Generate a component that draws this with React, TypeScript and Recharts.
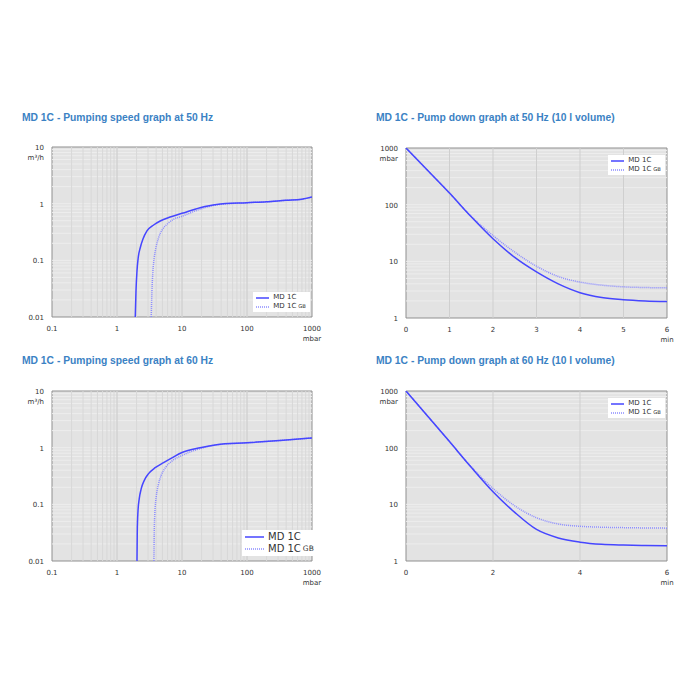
import {
  LineChart,
  Line,
  XAxis,
  YAxis,
  CartesianGrid,
  ReferenceLine,
  ReferenceArea,
} from "recharts";

// ---- data ----
const speed50StdP = [1.91, 1.96, 2.03, 2.12, 2.28, 2.5, 2.89, 3.66, 4.62, 6.58, 10, 19, 34, 100, 200, 400, 700, 1000];
const speed50StdS = [0.01, 0.029, 0.065, 0.111, 0.167, 0.235, 0.33, 0.42, 0.494, 0.58, 0.675, 0.85, 0.97, 1.04, 1.08, 1.15, 1.2, 1.31];
const speed50GbP = [3.36, 3.45, 3.57, 3.74, 3.97, 4.36, 5.02, 5.85, 7.4, 10, 19, 34, 100, 200, 400, 700, 1000];
const speed50GbS = [0.01, 0.029, 0.065, 0.111, 0.167, 0.25, 0.353, 0.43, 0.53, 0.6, 0.8, 0.95, 1.04, 1.08, 1.15, 1.2, 1.31];

const speed60StdP = [2.03, 2.05, 2.1, 2.2, 2.36, 2.63, 3.06, 3.87, 5.2, 7.0, 10, 19, 34, 100, 360, 1000];
const speed60StdS = [0.01, 0.0325, 0.073, 0.126, 0.189, 0.265, 0.348, 0.443, 0.543, 0.66, 0.82, 1.0, 1.13, 1.22, 1.35, 1.48];
const speed60GbP = [3.7, 3.74, 3.83, 4.01, 4.31, 4.79, 5.65, 7.0, 10, 19, 34, 100, 360, 1000];
const speed60GbS = [0.01, 0.0325, 0.073, 0.135, 0.217, 0.325, 0.456, 0.58, 0.73, 0.96, 1.12, 1.22, 1.35, 1.48];

const downTime = [0, 0.5, 1, 1.5, 2, 2.5, 3, 3.5, 4, 4.5, 5, 5.5, 6];
const down50Std = [1000, 400, 160, 61, 25, 11.7, 6.5, 4.0, 2.8, 2.3, 2.1, 2.0, 1.95];
const down50Gb = [1000, 400, 160, 62, 28.5, 14.5, 8.2, 5.4, 4.3, 3.8, 3.55, 3.45, 3.4];
const down60Std = [1000, 360, 128, 45, 16.7, 7.2, 3.6, 2.55, 2.15, 1.97, 1.91, 1.88, 1.86];
const down60Gb = [1000, 360, 128, 46, 19, 9.4, 5.8, 4.5, 4.1, 3.95, 3.88, 3.83, 3.8];

const pressureTicks = [0.1, 1, 10, 100, 1000];
const speedTicks = [0.01, 0.1, 1, 10];
const downTicks = [1, 10, 100, 1000];
const minutes50 = [0, 1, 2, 3, 4, 5, 6];
const minutes60 = [0, 2, 4, 6];

const seriesNames = ["MD 1C", "MD 1C"];

const titles = [
  "MD 1C - Pumping speed graph at 50 Hz",
  "MD 1C - Pump down graph at 50 Hz (10 l volume)",
  "MD 1C - Pumping speed graph at 60 Hz",
  "MD 1C - Pump down graph at 60 Hz (10 l volume)",
];

const STD = "#4646ff";
const GB = "#8c8cff";
const TICK_FONT = "'DejaVu Sans', sans-serif";

function zip(xs: number[], ys: number[]) {
  return xs.map((x, i) => ({ x, y: ys[i] }));
}

// minor log grid values inside [lo, hi]
function logMinor(lo: number, hi: number) {
  const out: number[] = [];
  for (let d = lo; d < hi; d *= 10) {
    for (let k = 1; k < 10; k++) {
      const v = +(d * k).toPrecision(3);
      if (v > lo && v < hi) out.push(v);
    }
  }
  return out;
}

function makeTick(anchor: string, unitAt: number, unit: string, vertical: boolean) {
  return (props: any) => {
    const { x, y, payload } = props;
    const v = payload.value;
    return (
      <g>
        <text
          x={x}
          y={y}
          dy={vertical ? 3 : 6}
          textAnchor={anchor}
          fontSize={7}
          fontFamily={TICK_FONT}
          fill="#333"
        >
          {String(v)}
        </text>
        {v === unitAt && (
          <text
            x={x}
            y={y}
            dy={vertical ? 13 : 16}
            textAnchor={anchor}
            fontSize={7}
            fontFamily={TICK_FONT}
            fill="#333"
          >
            {unit}
          </text>
        )}
      </g>
    );
  };
}

function Legend({ left, top, size, gb }: { left: number; top: number; size: number; gb: string }) {
  const row = (color: string, dotted: boolean, label: string, sub?: string) => (
    <div style={{ display: "flex", alignItems: "center", height: size + 2 }}>
      <svg width={size * 1.9} height={4} style={{ marginRight: 4 }}>
        <line
          x1={0}
          y1={2}
          x2={size * 1.9}
          y2={2}
          stroke={color}
          strokeWidth={1.5}
          strokeDasharray={dotted ? "1 1" : undefined}
        />
      </svg>
      <span>{label}</span>
      {sub && <span style={{ fontSize: size * 0.75, marginLeft: 2 }}>{sub}</span>}
    </div>
  );
  return (
    <div
      style={{
        position: "absolute",
        left,
        top,
        background: "#fff",
        padding: "1px 4px 1px 3px",
        fontFamily: TICK_FONT,
        fontSize: size,
        color: "#333",
        lineHeight: 1,
      }}
    >
      {row(STD, false, seriesNames[0])}
      {row(GB, true, seriesNames[1], gb)}
    </div>
  );
}

type Pt = { x: number; y: number };

function SpeedChart({ std, gb, top }: { std: Pt[]; gb: Pt[]; top: number }) {
  return (
    <div style={{ position: "absolute", left: 0, top }}>
      <LineChart width={330} height={202} margin={{ top: 7, right: 18, bottom: 0, left: 0 }}>
        <CartesianGrid fill="#e3e3e3" stroke="none" />
        {logMinor(0.01, 10).map((v) => (
          <ReferenceLine key={"h" + v} y={v} stroke="#ededed" strokeWidth={1} />
        ))}
        {logMinor(0.1, 1000).map((v) => (
          <ReferenceLine key={"v" + v} x={v} stroke="#d8d8d8" strokeWidth={1} />
        ))}
        {[1, 10, 100].map((v) => (
          <ReferenceLine key={"vm" + v} x={v} stroke="#d0d0d0" strokeWidth={1} />
        ))}
        <ReferenceArea x1={0.1} x2={1000} y1={0.01} y2={10} fill="none" stroke="#8f8f8f" strokeWidth={1} />
        <XAxis
          type="number"
          dataKey="x"
          scale="log"
          domain={[0.1, 1000]}
          allowDataOverflow
          ticks={pressureTicks}
          interval={0}
          axisLine={false}
          tickLine={false}
          height={25}
          tick={makeTick("middle", 1000, "mbar", false)}
        />
        <YAxis
          type="number"
          dataKey="y"
          scale="log"
          domain={[0.01, 10]}
          allowDataOverflow
          ticks={speedTicks}
          interval={0}
          axisLine={false}
          tickLine={false}
          width={52}
          tick={makeTick("end", 10, "m³/h", true)}
        />
        <Line
          data={gb}
          dataKey="y"
          type="monotone"
          stroke={GB}
          strokeWidth={1.5}
          strokeDasharray="1 1"
          dot={false}
          isAnimationActive={false}
        />
        <Line
          data={std}
          dataKey="y"
          type="monotone"
          stroke={STD}
          strokeWidth={1.5}
          dot={false}
          isAnimationActive={false}
        />
      </LineChart>
    </div>
  );
}

function DownChart({ std, gb, top, minutes }: { std: Pt[]; gb: Pt[]; top: number; minutes: number[] }) {
  return (
    <div style={{ position: "absolute", left: 350, top }}>
      <LineChart width={330} height={202} margin={{ top: 7, right: 13, bottom: 0, left: 0 }}>
        <CartesianGrid fill="#e3e3e3" stroke="none" />
        {logMinor(1, 1000).map((v) => (
          <ReferenceLine key={"h" + v} y={v} stroke="#ededed" strokeWidth={1} />
        ))}
        {minutes.slice(1, -1).map((v) => (
          <ReferenceLine key={"v" + v} x={v} stroke="#cfcfcf" strokeWidth={1} />
        ))}
        <ReferenceArea x1={0} x2={6} y1={1} y2={1000} fill="none" stroke="#8f8f8f" strokeWidth={1} />
        <XAxis
          type="number"
          dataKey="x"
          domain={[0, 6]}
          ticks={minutes}
          interval={0}
          axisLine={false}
          tickLine={false}
          height={25}
          tick={makeTick("middle", 6, "min", false)}
        />
        <YAxis
          type="number"
          dataKey="y"
          scale="log"
          domain={[1, 1000]}
          allowDataOverflow
          ticks={downTicks}
          interval={0}
          axisLine={false}
          tickLine={false}
          width={56}
          tick={makeTick("end", 1000, "mbar", true)}
        />
        <Line
          data={gb}
          dataKey="y"
          type="monotone"
          stroke={GB}
          strokeWidth={1.5}
          strokeDasharray="1 1"
          dot={false}
          isAnimationActive={false}
        />
        <Line
          data={std}
          dataKey="y"
          type="monotone"
          stroke={STD}
          strokeWidth={1.5}
          dot={false}
          isAnimationActive={false}
        />
      </LineChart>
    </div>
  );
}

const titleStyle = (left: number, top: number): React.CSSProperties => ({
  position: "absolute",
  left,
  top,
  fontFamily: "'Liberation Sans', Arial, sans-serif",
  fontWeight: "bold",
  fontSize: 10.3,
  color: "#3b82c4",
  whiteSpace: "nowrap",
});

export default function App() {
  return (
    <div
      style={{
        position: "absolute",
        left: 0,
        top: 0,
        width: 700,
        height: 700,
        background: "#fff",
        overflow: "hidden",
      }}
    >
      <div style={titleStyle(22, 112)}>{titles[0]}</div>
      <div style={titleStyle(376, 112)}>{titles[1]}</div>
      <div style={titleStyle(22, 355)}>{titles[2]}</div>
      <div style={titleStyle(376, 355)}>{titles[3]}</div>

      <SpeedChart std={zip(speed50StdP, speed50StdS)} gb={zip(speed50GbP, speed50GbS)} top={140} />
      <DownChart std={zip(downTime, down50Std)} gb={zip(downTime, down50Gb)} top={141} minutes={minutes50} />
      <SpeedChart std={zip(speed60StdP, speed60StdS)} gb={zip(speed60GbP, speed60GbS)} top={384} />
      <DownChart std={zip(downTime, down60Std)} gb={zip(downTime, down60Gb)} top={384} minutes={minutes60} />

      <Legend left={253} top={292} size={7} gb="GB" />
      <Legend left={608} top={155} size={7} gb="GB" />
      <Legend left={242} top={530} size={10} gb="GB" />
      <Legend left={608} top={398} size={7} gb="GB" />
    </div>
  );
}
